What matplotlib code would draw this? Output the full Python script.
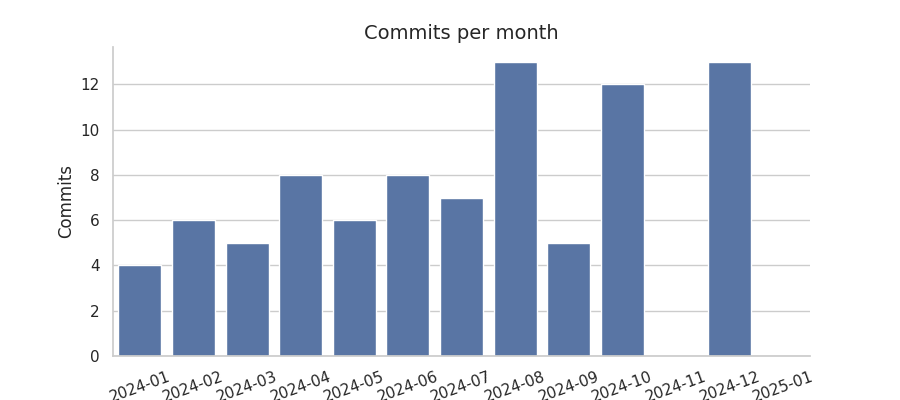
import matplotlib
matplotlib.use("Agg")
import matplotlib.pyplot as plt
import seaborn as sns
import pandas as pd

months = ["2024-01", "2024-02", "2024-03", "2024-04", "2024-05", "2024-06", "2024-07",
          "2024-08", "2024-09", "2024-10", "2024-11", "2024-12", "2025-01"]
commits = [4, 6, 5, 8, 6, 8, 7, 13, 5, 12, 0, 13, 0]

sns.set_theme(style="whitegrid")
df = pd.DataFrame({"month": months, "commits": commits})

fig, ax = plt.subplots(figsize=(9, 4), dpi=100)
fig.subplots_adjust(left=0.1256, right=0.9, top=0.8825, bottom=0.11)
sns.barplot(data=df, x="month", y="commits", color="#4c72b0", ax=ax)
ax.set_title("Commits per month", fontsize=14)
ax.set_ylabel("Commits", fontsize=12)
ax.set_xlabel("")
ax.set_yticks(range(0, 13, 2))
ax.set_xlim(-0.5, 12.5)
ax.set_ylim(0, 13.65)
for lab in ax.get_xticklabels():
    lab.set_rotation(20)
ax.tick_params(axis="both", labelsize=11)
sns.despine(ax=ax)
fig.savefig("out.png", dpi=100)
